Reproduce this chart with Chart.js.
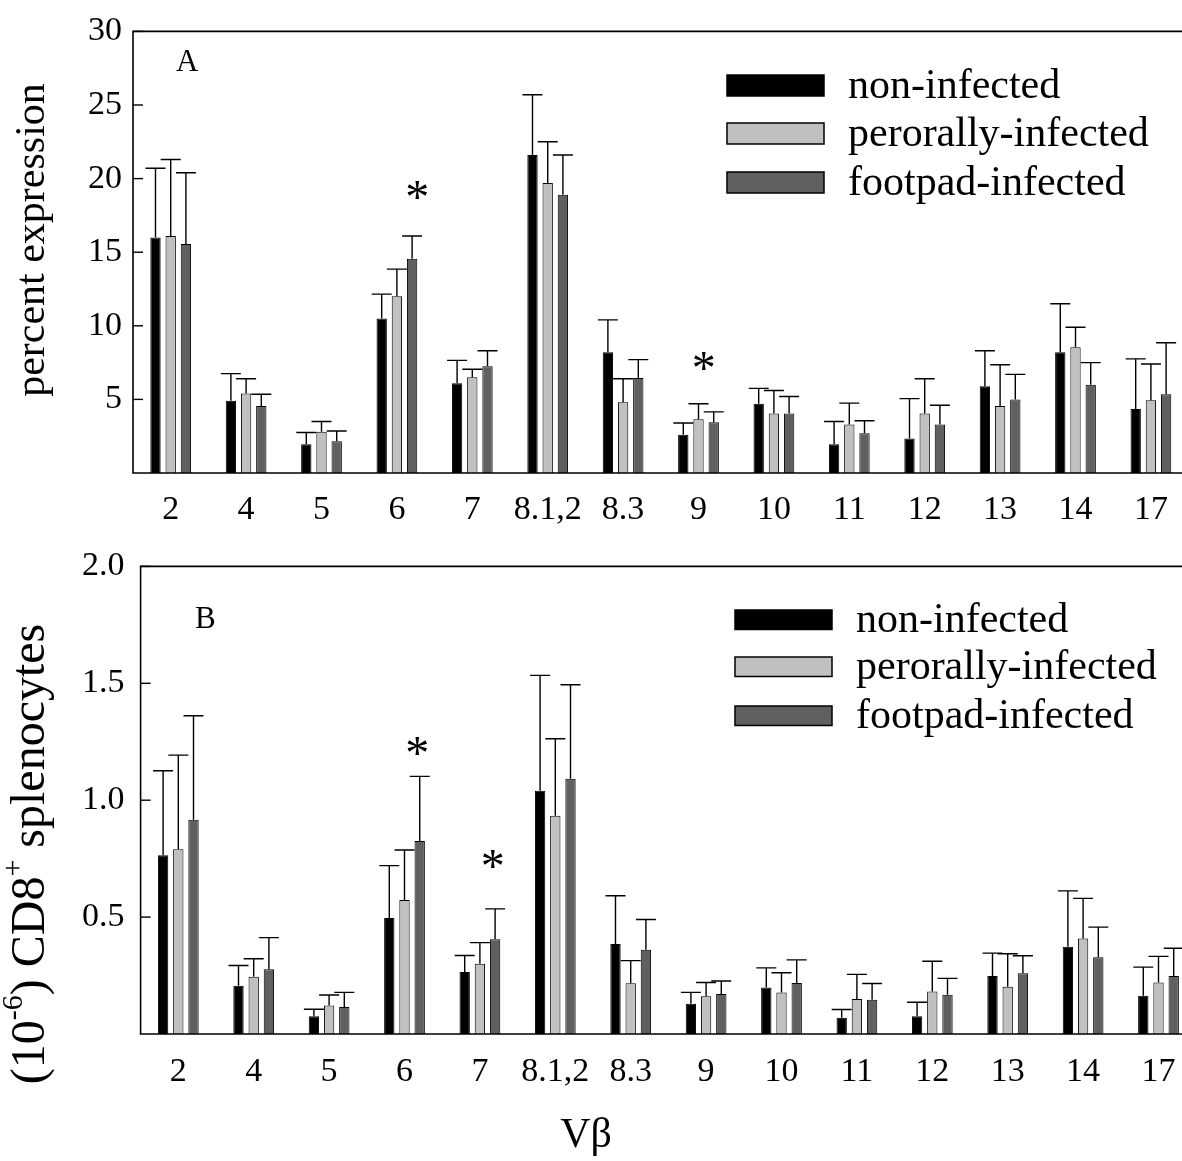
<!DOCTYPE html>
<html>
<head>
<meta charset="utf-8">
<script src="https://cdn.jsdelivr.net/npm/chart.js@4/dist/chart.umd.min.js"></script>
<style>
html,body{margin:0;padding:0;background:#fff;overflow:hidden;width:1182px;height:1161px;}
#wrapA{position:absolute;left:0;top:0;width:1195px;height:525px;}
#wrapB{position:absolute;left:0;top:530px;width:1200px;height:631px;}
</style>
</head>
<body>
<div id="wrapA"><canvas id="cA" width="1195" height="525"></canvas></div>
<div id="wrapB"><canvas id="cB" width="1200" height="631"></canvas></div>
<script>
// ---------- data ----------
const categories = ['2','4','5','6','7','8.1,2','8.3','9','10','11','12','13','14','17'];
const seriesNames = ['non-infected','perorally-infected','footpad-infected'];

// Panel A: percent expression (mean and top of error bar)
const nonA      = [16.0, 4.9, 1.95, 10.5, 6.1, 21.6, 8.2, 2.6, 4.7, 1.95, 2.35, 5.9, 8.2, 4.35];
const nonA_top  = [20.7, 6.75, 2.75, 12.15, 7.65, 25.7, 10.4, 3.4, 5.75, 3.5, 5.05, 8.3, 11.5, 7.75];
const perA      = [16.1, 5.4, 2.8, 12.0, 6.5, 19.7, 4.8, 3.65, 4.05, 3.3, 4.05, 4.55, 8.55, 4.95];
const perA_top  = [21.3, 6.4, 3.5, 13.85, 7.05, 22.5, 6.4, 4.7, 5.6, 4.75, 6.4, 7.35, 9.9, 7.4];
const footA     = [15.55, 4.55, 2.15, 14.55, 7.25, 18.9, 6.45, 3.45, 4.05, 2.7, 3.3, 5.0, 6.0, 5.35];
const footA_top = [20.4, 5.35, 2.85, 16.1, 8.3, 21.6, 7.7, 4.15, 5.2, 3.55, 4.6, 6.7, 7.5, 8.85];
const starsA    = [{cat: 3, shift: 0.27, value: 19.2}, {cat: 7, shift: 0.07, value: 7.6}];

// Panel B: (10^-6) CD8+ splenocytes
const nonB      = [0.765, 0.206, 0.076, 0.496, 0.265, 1.04, 0.385, 0.129, 0.199, 0.07, 0.076, 0.248, 0.373, 0.164];
const nonB_top  = [1.126, 0.293, 0.106, 0.72, 0.336, 1.534, 0.591, 0.178, 0.283, 0.105, 0.136, 0.346, 0.612, 0.286];
const perB      = [0.79, 0.245, 0.122, 0.573, 0.30, 0.934, 0.217, 0.161, 0.178, 0.15, 0.182, 0.202, 0.408, 0.22];
const perB_top  = [1.193, 0.322, 0.167, 0.787, 0.391, 1.263, 0.314, 0.22, 0.262, 0.255, 0.311, 0.343, 0.58, 0.332];
const footB     = [0.916, 0.277, 0.115, 0.825, 0.405, 1.092, 0.36, 0.171, 0.218, 0.146, 0.168, 0.26, 0.328, 0.248];
const footB_top = [1.361, 0.412, 0.178, 1.102, 0.535, 1.494, 0.49, 0.227, 0.317, 0.216, 0.238, 0.335, 0.457, 0.367];
const starsB    = [{cat: 3, shift: 0.17, value: 1.23}, {cat: 4, shift: 0.17, value: 0.75}];

const colors = ['#000000', '#c0c0c0', '#606060'];
const FONT = "'Liberation Serif', 'Times New Roman', serif";
Chart.defaults.font.family = FONT;
Chart.defaults.color = '#000';

// ---------- plugin ----------
const decor = {
  id: 'decor',
  afterDatasetsDraw(chart, args, o) {
    const ctx = chart.ctx, a = chart.chartArea;
    const x = chart.scales.x, y = chart.scales.y;
    ctx.save();
    // error bars
    ctx.strokeStyle = '#000'; ctx.lineWidth = 1.4;
    chart.data.datasets.forEach((ds, di) => {
      const meta = chart.getDatasetMeta(di);
      meta.data.forEach((bar, i) => {
        const yt = y.getPixelForValue(ds.errTop[i]);
        ctx.beginPath();
        ctx.moveTo(bar.x, bar.y); ctx.lineTo(bar.x, yt);
        ctx.moveTo(bar.x - 10, yt); ctx.lineTo(bar.x + 10, yt);
        ctx.stroke();
      });
    });
    // frame
    ctx.lineWidth = 1.6;
    ctx.beginPath();
    ctx.moveTo(a.right, a.top); ctx.lineTo(a.left, a.top); ctx.lineTo(a.left, a.bottom); ctx.lineTo(a.right, a.bottom);
    ctx.stroke();
    // inward y ticks
    ctx.lineWidth = 1.4;
    y.ticks.forEach(t => {
      if (t.value === 0) return;
      const py = y.getPixelForValue(t.value);
      ctx.beginPath(); ctx.moveTo(a.left, py); ctx.lineTo(a.left + 10, py); ctx.stroke();
    });
    // asterisks
    ctx.fillStyle = '#000';
    ctx.font = '48px ' + FONT;
    ctx.textAlign = 'center'; ctx.textBaseline = 'alphabetic';
    const catW = (a.right - a.left) / chart.data.labels.length;
    o.stars.forEach(s => {
      const px = x.getPixelForValue(s.cat) + s.shift * catW;
      const py = y.getPixelForValue(s.value);
      const m = ctx.measureText('*');
      const off = (m.actualBoundingBoxAscent - m.actualBoundingBoxDescent) / 2;
      ctx.fillText('*', px, py + off);
    });
    // panel letter
    ctx.font = '31px ' + FONT;
    ctx.textAlign = 'left';
    ctx.fillText(o.letter, o.letterX, o.letterY);
    // legend
    ctx.font = '42px ' + FONT;
    ctx.textBaseline = 'middle';
    chart.data.datasets.forEach((ds, di) => {
      const top = o.legY[di];
      ctx.fillStyle = ds.backgroundColor;
      ctx.fillRect(o.legX, top, 97, o.legH);
      ctx.strokeStyle = '#000'; ctx.lineWidth = 1.5;
      ctx.strokeRect(o.legX, top, 97, o.legH);
      ctx.fillStyle = '#000';
      ctx.fillText(ds.label, o.legTextX, top + o.legH / 2 + 1);
    });
    // y title
    ctx.save();
    ctx.translate(o.titleX, o.titleY);
    ctx.rotate(-Math.PI / 2);
    ctx.textBaseline = 'middle';
    const parts = o.titleParts;
    const big = o.titleSize + 'px ', small = Math.round(o.titleSize * 0.62) + 'px ';
    let total = 0;
    parts.forEach(p => { ctx.font = (p.sup ? small : big) + FONT; p.w = ctx.measureText(p.t).width; total += p.w; });
    let cx = -total / 2;
    parts.forEach(p => {
      ctx.font = (p.sup ? small : big) + FONT;
      ctx.textAlign = 'left';
      ctx.fillText(p.t, cx, p.sup ? -o.titleSize * 0.36 : 0);
      cx += p.w;
    });
    ctx.restore();
    // x title
    if (o.xTitle) {
      ctx.font = '42px ' + FONT;
      ctx.textAlign = 'center'; ctx.textBaseline = 'middle';
      ctx.fillText(o.xTitle, o.xTitleX, o.xTitleY);
    }
    ctx.restore();
  }
};

function makeChart(id, vals, tops, opts) {
  return new Chart(document.getElementById(id), {
    type: 'bar',
    data: {
      labels: categories,
      datasets: seriesNames.map((n, i) => ({
        label: n, data: vals[i], errTop: tops[i],
        backgroundColor: colors[i], borderColor: '#000', borderWidth: 1,
        categoryPercentage: 0.605, barPercentage: 0.68
      }))
    },
    options: {
      responsive: false, animation: false, devicePixelRatio: 1,
      layout: { padding: opts.padding },
      plugins: { legend: { display: false }, tooltip: { enabled: false }, title: { display: false }, decor: opts.decor },
      scales: {
        x: {
          grid: { display: false, drawTicks: false }, border: { display: false },
          ticks: { font: { size: 34 }, padding: opts.xPad, color: '#000', maxRotation: 0, autoSkip: false },
          afterFit(s) { s.height = opts.xH; }
        },
        y: {
          min: 0, max: opts.max,
          grid: { display: false, drawTicks: false }, border: { display: false },
          ticks: { stepSize: opts.step, font: { size: 34 }, padding: opts.yPad, color: '#000',
                   callback: v => v === 0 ? '' : opts.fmt(v) },
          afterFit(s) { s.width = opts.yW; }
        }
      }
    },
    plugins: [decor]
  });
}

makeChart('cA', [nonA, perA, footA], [nonA_top, perA_top, footA_top], {
  padding: { top: 20, left: 0, right: 6.4, bottom: 0 },
  xH: 52, yW: 133, xPad: 17, yPad: 11, max: 30, step: 5, fmt: v => String(v),
  decor: {
    stars: starsA, letter: 'A', letterX: 176, letterY: 71,
    legX: 727, legY: [75, 123, 172], legH: 21, legTextX: 848,
    titleX: 33, titleY: 240, titleSize: 42, titleParts: [{ t: 'percent expression' }]
  }
});

makeChart('cB', [nonB, perB, footB], [nonB_top, perB_top, footB_top], {
  padding: { top: 28, left: 0, right: 3.8, bottom: 0 },
  xH: 127, yW: 140.6, xPad: 18, yPad: 16, max: 2.0, step: 0.5, fmt: v => v.toFixed(1),
  decor: {
    stars: starsB, letter: 'B', letterX: 195, letterY: 98,
    legX: 735, legY: [80, 127, 176], legH: 19.5, legTextX: 856,
    titleX: 31, titleY: 324, titleSize: 48,
    titleParts: [{ t: '(10' }, { t: '-6', sup: true }, { t: ') CD8' }, { t: '+', sup: true }, { t: ' splenocytes' }],
    xTitle: 'V\u03B2', xTitleX: 586, xTitleY: 606
  }
});
</script>
</body>
</html>
